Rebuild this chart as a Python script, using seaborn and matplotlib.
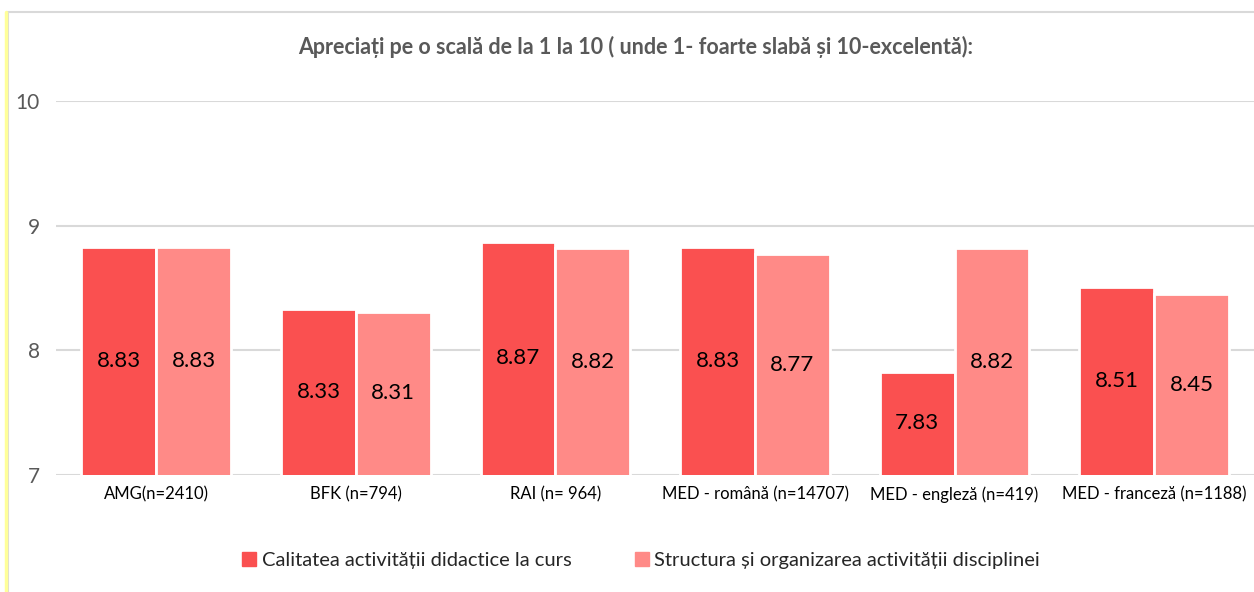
import matplotlib
matplotlib.use("Agg")
import matplotlib.pyplot as plt
import seaborn as sns
import pandas as pd
from matplotlib.patches import Rectangle
from matplotlib.lines import Line2D

categories = ["AMG(n=2410)", "BFK (n=794)", "RAI (n= 964)", "MED - română (n=14707)",
              "MED - engleză (n=419)", "MED - franceză (n=1188)"]
series_names = ["Calitatea activității didactice la curs",
                "Structura și organizarea activității disciplinei"]
calitate = [8.83, 8.33, 8.87, 8.83, 7.83, 8.51]
structura = [8.83, 8.31, 8.82, 8.77, 8.82, 8.45]
colors = ["#FA5050", "#FF8A87"]

df = pd.DataFrame({
    "cat": categories * 2,
    "serie": [series_names[0]] * 6 + [series_names[1]] * 6,
    "val": calitate + structura,
})

sns.set_theme(style="white")
plt.rcParams["font.family"] = ["Lato", "DejaVu Sans"]

fig = plt.figure(figsize=(12.54, 5.92), dpi=100)
ax = fig.add_axes([0.045, 0.1976, 0.955, 0.6318])

sns.barplot(data=df, x="cat", y="val", hue="serie", palette=colors, ax=ax,
            width=0.75, edgecolor="white", linewidth=2, legend=False,
            saturation=1)
ax.set_ylim(7, 10)
ax.set_yticks([7, 8, 9, 10])
ax.set_xlim(-0.5, 5.5)
ax.grid(axis="y", color="#D9D9D9", linewidth=1.5)
ax.set_axisbelow(True)
for s in ax.spines.values():
    s.set_visible(False)
ax.tick_params(axis="y", labelsize=15, labelcolor="#595959", length=0, pad=12)
ax.tick_params(axis="x", labelsize=12, labelcolor="#000000", length=0, pad=8)
ax.set_xlabel("")
ax.set_ylabel("")

for cont in ax.containers:
    for bar in cont:
        h = bar.get_height()
        y0 = 7
        ax.text(bar.get_x() + bar.get_width() / 2, (y0 + h) / 2, f"{h:.2f}",
                ha="center", va="center", fontsize=16, color="#000000")

fig.text(0.507, 0.92, "Apreciați pe o scală de la 1 la 10 ( unde 1- foarte slabă și 10-excelentă):",
         ha="center", va="center", fontsize=15.5, fontweight="bold", color="#595959")

handles = [Line2D([], [], marker="s", linestyle="", markersize=10,
                  markerfacecolor=c, markeredgecolor=c) for c in colors]
fig.legend(handles, series_names, loc="center", bbox_to_anchor=(0.51, 0.054),
           ncol=2, frameon=False, fontsize=14.5, handletextpad=0.1, columnspacing=3,
           handlelength=1)

# outer frame
fig.add_artist(Rectangle((8 / 1254, -0.01), 1.0, 1 - 12 / 592 + 0.01, transform=fig.transFigure,
                         fill=False, edgecolor="#D9D9D9", linewidth=1.5))
fig.add_artist(Line2D([6 / 1254, 6 / 1254], [0, 1 - 12 / 592], transform=fig.transFigure,
                      color="#FFFF99", linewidth=2.5))

fig.savefig("out.png", dpi=100, facecolor="white")
